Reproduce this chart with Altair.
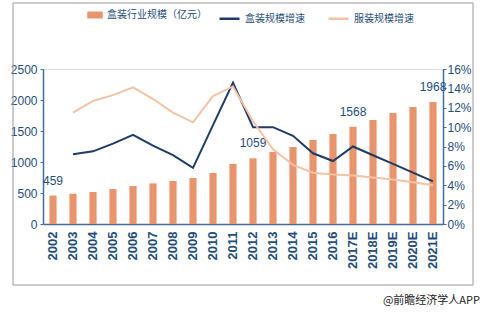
import altair as alt
import pandas as pd

years = ["2002","2003","2004","2005","2006","2007","2008","2009","2010","2011",
         "2012","2013","2014","2015","2016","2017E","2018E","2019E","2020E","2021E"]
scale_vals = [459, 488, 516, 564, 612, 655, 694, 742, 823, 968,
              1059, 1161, 1242, 1355, 1452, 1568, 1677, 1790, 1887, 1968]
box_growth = [None, 7.2, 7.5, 8.3, 9.2, 8.1, 7.1, 5.8, 10.2, 14.6,
              10.0, 10.0, 9.1, 7.3, 6.5, 8.0, 7.1, 6.2, 5.3, 4.4]
cloth_growth = [None, 11.5, 12.7, 13.3, 14.1, 12.9, 11.5, 10.5, 13.2, 14.2,
                10.6, 7.7, 6.1, 5.3, 5.1, 5.0, 4.8, 4.6, 4.3, 4.0]
shown_labels = ["459", "", "", "", "", "", "", "", "", "",
                "1059", "", "", "", "", "1568", "", "", "", "1968"]
left_ticks = [0, 500, 1000, 1500, 2000, 2500]
right_ticks = [0, .02, .04, .06, .08, .1, .12, .14, .16]

BAR = "#E8956D"
NAVY = "#1F3B66"
PEACH = "#F5C2A5"
TXT = "#1F4E79"
AX = "#3F6E9E"
FONT = "Liberation Sans Narrow, Liberation Sans, Arial"
CJK = "Noto Sans CJK SC"

bars_df = pd.DataFrame({"year": years, "value": scale_vals, "label": shown_labels,
                        "series": ["盒装行业规模（亿元）"] * len(years)})
lines_df = pd.DataFrame({
    "year": years * 2,
    "rate": [None if v is None else v / 100 for v in box_growth] +
            [None if v is None else v / 100 for v in cloth_growth],
    "series": ["盒装规模增速"] * len(years) + ["服装规模增速"] * len(years),
})

xaxis = alt.Axis(labelAngle=-90, labelAlign="right", labelBaseline="middle",
                 labelFont=FONT, labelFontSize=13, labelFontWeight="bold",
                 labelColor=TXT, labelPadding=7, ticks=False,
                 domainColor=AX, domainWidth=1.5)
xscale = alt.Scale(paddingInner=0.64, paddingOuter=0.32)
yaxis = alt.Axis(values=left_ticks, format="d", labelOverlap=False, labelFont=FONT,
                 labelFontSize=12, labelColor=TXT, grid=False,
                 domainColor=AX, domainWidth=1.5, tickColor=AX,
                 tickSize=3, labelPadding=3)
yleft = alt.Scale(domain=[0, 2500], nice=False)

bars = alt.Chart(bars_df).mark_bar(color=BAR).encode(
    x=alt.X("year:N", sort=years, title=None, scale=xscale, axis=xaxis),
    y=alt.Y("value:Q", title=None, scale=yleft, axis=yaxis),
    fill=alt.Fill("series:N", scale=alt.Scale(range=[BAR]),
                  legend=alt.Legend(title=None, orient="none", legendX=44, legendY=-62,
                                    symbolType="M-1,-0.45H1V0.45H-1Z", symbolSize=240,
                                    labelFont=CJK, labelFontSize=10, labelColor=TXT,
                                    symbolStrokeWidth=0)),
)

labels = alt.Chart(bars_df).mark_text(baseline="bottom", dy=-8, font=FONT, fontSize=12,
                                      color=TXT).encode(
    x=alt.X("year:N", sort=years, title=None, scale=xscale, axis=xaxis),
    y=alt.Y("value:Q", title=None, scale=yleft, axis=yaxis),
    text="label:N",
)

left = alt.layer(bars, labels)

lines = alt.Chart(lines_df).mark_line(strokeWidth=2).encode(
    x=alt.X("year:N", sort=years, title=None, scale=xscale, axis=xaxis),
    y=alt.Y("rate:Q", title=None,
            scale=alt.Scale(domain=[0, 0.16], nice=False),
            axis=alt.Axis(orient="right", values=right_ticks,
                          format=".0%", labelOverlap=False, labelFont=FONT, labelFontSize=12,
                          labelColor=TXT, grid=False, domainColor=AX, domainWidth=1.5,
                          tickColor=AX, tickSize=3, labelPadding=1)),
    stroke=alt.Stroke("series:N", sort=["盒装规模增速", "服装规模增速"],
                      scale=alt.Scale(domain=["盒装规模增速", "服装规模增速"], range=[NAVY, PEACH]),
                      legend=alt.Legend(title=None, orient="none", legendX=175, legendY=-62,
                                        direction="horizontal", symbolType="stroke",
                                        symbolSize=400, symbolStrokeWidth=2.5,
                                        columnPadding=18, labelFont=CJK, labelFontSize=10,
                                        labelColor=TXT)),
    strokeWidth=alt.StrokeWidth("series:N", scale=alt.Scale(domain=["盒装规模增速", "服装规模增速"],
                                                            range=[2.5, 1.6]), legend=None),
)

one = pd.DataFrame({"a": [0]})
def edge(x, x2, y, y2):
    return alt.Chart(one).mark_rule(color="#9A9A9A", strokeWidth=1).encode(
        x=alt.value(x), x2=alt.value(x2), y=alt.value(y), y2=alt.value(y2))

frame = [edge(-30, 430, -66, -66), edge(-30, 430, 216, 216),
         edge(-30, -30, -66, 216), edge(430, 430, -66, 216)]

source = alt.Chart(one).mark_text(
    align="right", baseline="middle", font=CJK, fontSize=11, color="#222222").encode(
    x=alt.value(437), y=alt.value(232), text=alt.value("@前瞻经济学人APP"))

chart = alt.layer(left, lines, *frame, source).resolve_scale(
    y="independent", fill="independent", stroke="independent"
).properties(
    width=400, height=155,
    autosize=alt.AutoSizeParams(type="none"),
    padding={"left": 43, "top": 69, "right": 39, "bottom": 91},
).configure_view(stroke=None).configure(background="white")

chart.save("out.html", embed_options={"renderer": "svg", "actions": False})
